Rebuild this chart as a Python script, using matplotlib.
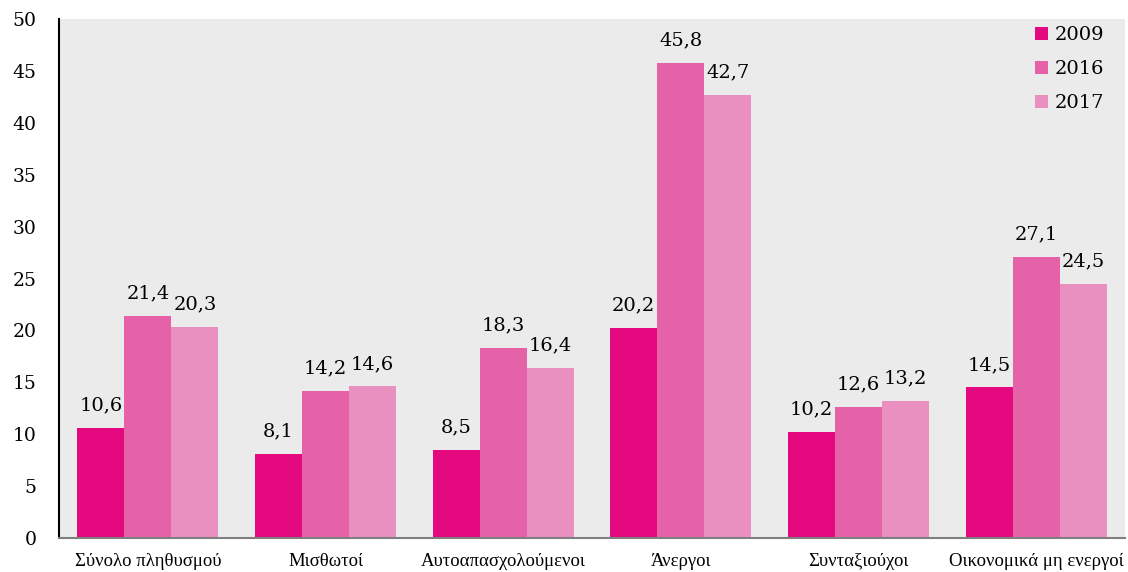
import matplotlib
matplotlib.use("Agg")
import matplotlib.pyplot as plt
import numpy as np

categories = ["Σύνολο πληθυσμού", "Μισθωτοί", "Αυτοαπασχολούμενοι", "Άνεργοι", "Συνταξιούχοι", "Οικονομικά μη ενεργοί"]
years = ["2009", "2016", "2017"]
v2009 = [10.6, 8.1, 8.5, 20.2, 10.2, 14.5]
v2016 = [21.4, 14.2, 18.3, 45.8, 12.6, 27.1]
v2017 = [20.3, 14.6, 16.4, 42.7, 13.2, 24.5]
yticks = list(range(0, 51, 5))

colors = ["#e4097f", "#e662a8", "#ea90c0"]
plt.rcParams['font.family'] = ['DejaVu Serif']

fig = plt.figure(figsize=(11.28, 5.72), dpi=100)
ax = fig.add_axes([59/1128, 1 - 538/572, (1125-59)/1128, (538-19)/572])
ax.set_facecolor("#ebebeb")

x = np.arange(len(categories))
w = 0.265
for i, (vals, yr) in enumerate(zip([v2009, v2016, v2017], years)):
    bars = ax.bar(x + (i - 1) * w, vals, w, color=colors[i], label=yr, zorder=2)
    for b, v in zip(bars, vals):
        ax.text(b.get_x() + b.get_width() / 2, v + 1.3, f"{v:.1f}".replace(".", ","),
                ha="center", va="bottom", fontsize=14)

ax.set_xlim(-0.5, len(categories) - 0.5)
ax.set_ylim(0, 50)
ax.set_yticks(yticks)
ax.set_yticklabels([str(t) for t in yticks], fontsize=13.5)
ax.set_xticks(x)
ax.set_xticklabels(categories, fontsize=13.5, family=['Liberation Serif', 'DejaVu Serif'])
ax.tick_params(axis="both", length=0)
ax.tick_params(axis="y", pad=16)
ax.tick_params(axis="x", pad=11)
for s in ["top", "right"]:
    ax.spines[s].set_visible(False)
ax.spines["left"].set_color("black")
ax.spines["left"].set_linewidth(1.5)
ax.spines["bottom"].set_color("#7f7f7f")
ax.spines["bottom"].set_linewidth(1.5)

leg = ax.legend(loc="upper right", bbox_to_anchor=(0.997, 1.02), frameon=False, fontsize=14,
                handlelength=0.65, handleheight=0.65, handletextpad=0.35, labelspacing=0.82)

fig.savefig("out.png", dpi=100)
